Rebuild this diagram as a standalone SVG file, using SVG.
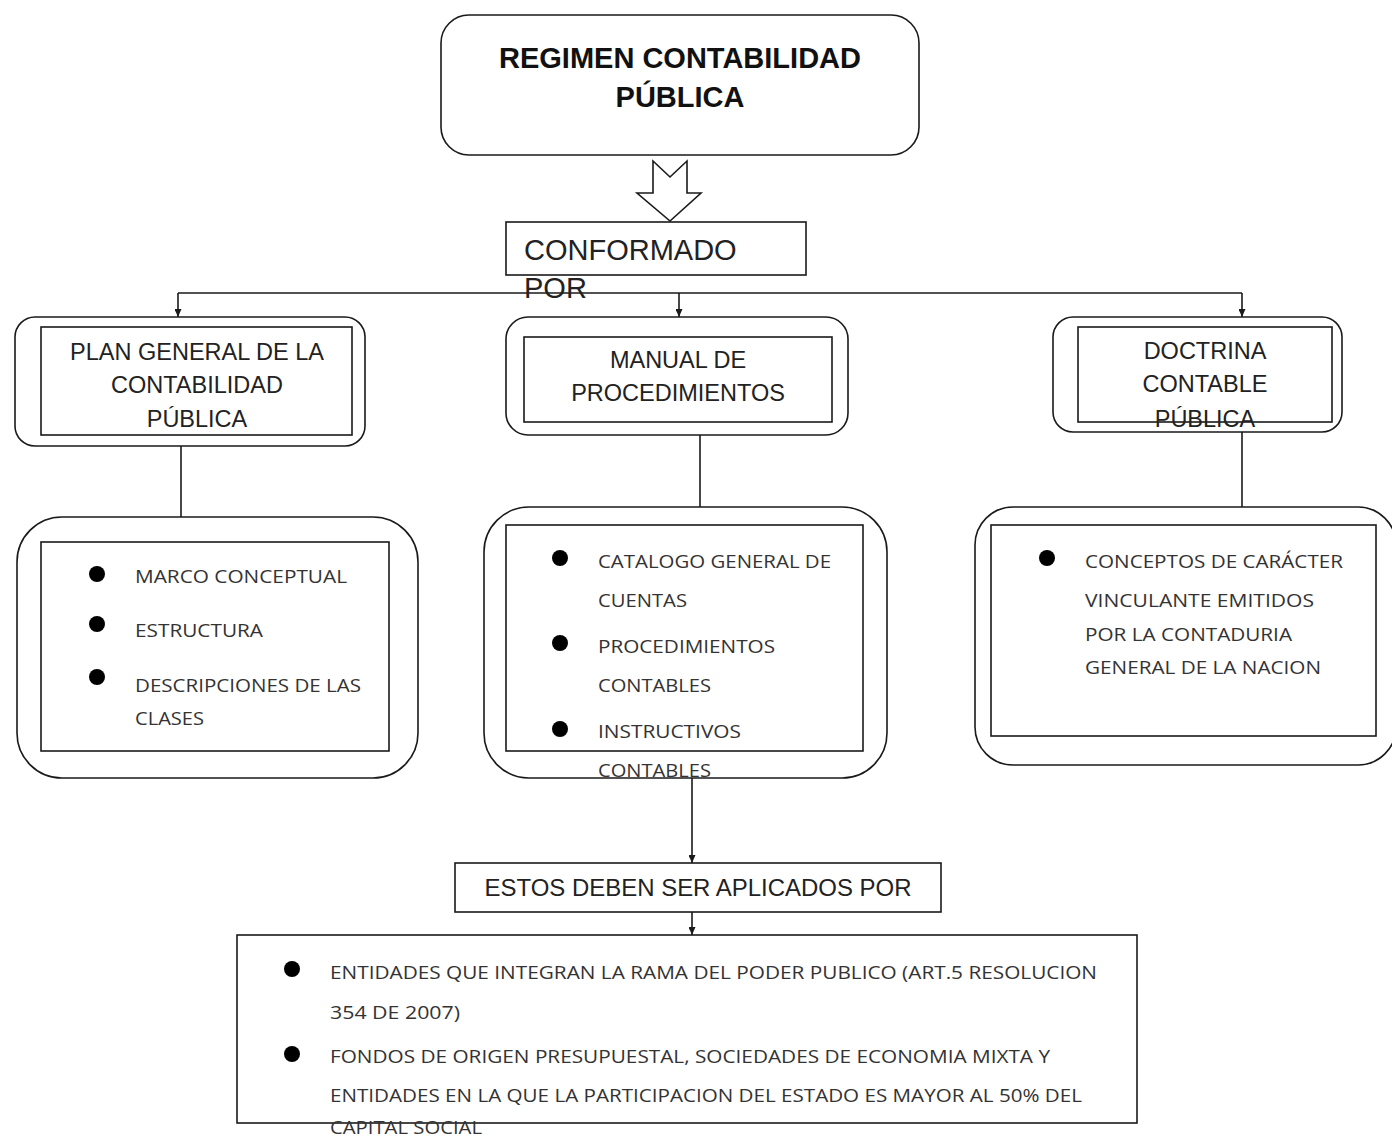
<svg xmlns="http://www.w3.org/2000/svg" width="1392" height="1138" viewBox="0 0 1392 1138">
<defs>
<marker id="ah" markerWidth="9" markerHeight="7" refX="8" refY="3.5" orient="auto" markerUnits="userSpaceOnUse">
<path d="M0,0 L8,3.5 L0,7 Z" fill="#1a1a1a"/>
</marker>
<style>
.bx{fill:#fff;stroke:#1a1a1a;stroke-width:1.6}
.ln{fill:none;stroke:#1a1a1a;stroke-width:1.6}
.hd{font-family:"Liberation Sans",Arial,sans-serif;font-size:23.5px;fill:#222;text-anchor:middle}
.bt{font-family:"Open Sans","Liberation Sans",sans-serif;font-size:18.5px;fill:#333}
.dot{fill:#000}
</style>
</defs>
<rect width="1392" height="1138" fill="#fff"/>

<g id="connectors">
<polygon class="bx" points="653,161 670,177 687,161 687,193 701,193 670,221 637,193 653,193"/>
<line class="ln" x1="178" y1="293" x2="1242" y2="293"/>
<line class="ln" x1="178" y1="293" x2="178" y2="317" marker-end="url(#ah)"/>
<line class="ln" x1="679" y1="293" x2="679" y2="317" marker-end="url(#ah)"/>
<line class="ln" x1="1242" y1="293" x2="1242" y2="317" marker-end="url(#ah)"/>
<line class="ln" x1="181" y1="446" x2="181" y2="517"/>
<line class="ln" x1="700" y1="435" x2="700" y2="507"/>
<line class="ln" x1="1242" y1="432" x2="1242" y2="507"/>
<line class="ln" x1="692" y1="778" x2="692" y2="863" marker-end="url(#ah)"/>
<line class="ln" x1="692" y1="912" x2="692" y2="935" marker-end="url(#ah)"/>
</g>

<g id="regimen">
<rect class="bx" x="441" y="15" width="478" height="140" rx="28"/>
<text x="680" y="68" font-family="Liberation Sans,Arial,sans-serif" font-size="29" font-weight="bold" fill="#111" text-anchor="middle">REGIMEN CONTABILIDAD</text>
<text x="680" y="107" font-family="Liberation Sans,Arial,sans-serif" font-size="29" font-weight="bold" fill="#111" text-anchor="middle">PÚBLICA</text>
</g>

<g id="conformado">
<rect class="bx" x="506" y="222" width="300" height="53"/>
<text x="524" y="260" font-family="Liberation Sans,Arial,sans-serif" font-size="29" fill="#222">CONFORMADO</text>
<text x="524" y="298" font-family="Liberation Sans,Arial,sans-serif" font-size="29" fill="#222">POR</text>
</g>

<g id="plan">
<rect class="bx" x="15" y="317" width="350" height="129" rx="20"/>
<rect class="bx" x="41" y="327" width="311" height="108"/>
<text class="hd" x="197" y="360">PLAN GENERAL DE LA</text>
<text class="hd" x="197" y="393">CONTABILIDAD</text>
<text class="hd" x="197" y="427">PÚBLICA</text>
</g>

<g id="manual">
<rect class="bx" x="506" y="317" width="342" height="118" rx="22"/>
<rect class="bx" x="524" y="337" width="308" height="85"/>
<text class="hd" x="678" y="368">MANUAL DE</text>
<text class="hd" x="678" y="401">PROCEDIMIENTOS</text>
</g>

<g id="doctrina">
<rect class="bx" x="1053" y="317" width="289" height="115" rx="20"/>
<rect class="bx" x="1078" y="327" width="254" height="95"/>
<text class="hd" x="1205" y="359">DOCTRINA</text>
<text class="hd" x="1205" y="392">CONTABLE</text>
<text class="hd" x="1205" y="427">PÚBLICA</text>
</g>

<g id="plan-items">
<rect class="bx" x="17" y="517" width="401" height="261" rx="45"/>
<rect class="bx" x="41" y="542" width="348" height="209"/>
<circle class="dot" cx="97" cy="574" r="8"/>
<circle class="dot" cx="97" cy="624" r="8"/>
<circle class="dot" cx="97" cy="677" r="8"/>
<text class="bt" x="135" y="583" textLength="212" lengthAdjust="spacingAndGlyphs">MARCO CONCEPTUAL</text>
<text class="bt" x="135" y="637" textLength="128" lengthAdjust="spacingAndGlyphs">ESTRUCTURA</text>
<text class="bt" x="135" y="692" textLength="226" lengthAdjust="spacingAndGlyphs">DESCRIPCIONES DE LAS</text>
<text class="bt" x="135" y="725" textLength="69" lengthAdjust="spacingAndGlyphs">CLASES</text>
</g>

<g id="manual-items">
<rect class="bx" x="484" y="507" width="403" height="271" rx="45"/>
<rect class="bx" x="506" y="525" width="357" height="226"/>
<circle class="dot" cx="560" cy="558" r="8"/>
<circle class="dot" cx="560" cy="643" r="8"/>
<circle class="dot" cx="560" cy="729" r="8"/>
<text class="bt" x="598" y="568" textLength="233" lengthAdjust="spacingAndGlyphs">CATALOGO GENERAL DE</text>
<text class="bt" x="598" y="607" textLength="89" lengthAdjust="spacingAndGlyphs">CUENTAS</text>
<text class="bt" x="598" y="653" textLength="177" lengthAdjust="spacingAndGlyphs">PROCEDIMIENTOS</text>
<text class="bt" x="598" y="692" textLength="113" lengthAdjust="spacingAndGlyphs">CONTABLES</text>
<text class="bt" x="598" y="738" textLength="143" lengthAdjust="spacingAndGlyphs">INSTRUCTIVOS</text>
<text class="bt" x="598" y="777" textLength="113" lengthAdjust="spacingAndGlyphs">CONTABLES</text>
</g>

<g id="doctrina-items">
<rect class="bx" x="975" y="507" width="421" height="258" rx="38"/>
<rect class="bx" x="991" y="525" width="385" height="211"/>
<circle class="dot" cx="1047" cy="558" r="8"/>
<text class="bt" x="1085" y="568" textLength="258" lengthAdjust="spacingAndGlyphs">CONCEPTOS DE CARÁCTER</text>
<text class="bt" x="1085" y="607" textLength="229" lengthAdjust="spacingAndGlyphs">VINCULANTE EMITIDOS</text>
<text class="bt" x="1085" y="641" textLength="207" lengthAdjust="spacingAndGlyphs">POR LA CONTADURIA</text>
<text class="bt" x="1085" y="674" textLength="236" lengthAdjust="spacingAndGlyphs">GENERAL DE LA NACION</text>
</g>

<g id="estos">
<rect class="bx" x="455" y="863" width="486" height="49"/>
<text x="698" y="896" font-family="Liberation Sans,Arial,sans-serif" font-size="23.5" fill="#222" text-anchor="middle" textLength="427" lengthAdjust="spacingAndGlyphs">ESTOS DEBEN SER APLICADOS POR</text>
</g>

<g id="entidades">
<rect class="bx" x="237" y="935" width="900" height="188"/>
<circle class="dot" cx="292" cy="969" r="8"/>
<circle class="dot" cx="292" cy="1054" r="8"/>
<text class="bt" x="330" y="979" textLength="767" lengthAdjust="spacingAndGlyphs">ENTIDADES QUE INTEGRAN LA RAMA DEL PODER PUBLICO (ART.5 RESOLUCION</text>
<text class="bt" x="330" y="1019" textLength="130" lengthAdjust="spacingAndGlyphs">354 DE 2007)</text>
<text class="bt" x="330" y="1063" textLength="720" lengthAdjust="spacingAndGlyphs">FONDOS DE ORIGEN PRESUPUESTAL, SOCIEDADES DE ECONOMIA MIXTA Y</text>
<text class="bt" x="330" y="1102" textLength="752" lengthAdjust="spacingAndGlyphs">ENTIDADES EN LA QUE LA PARTICIPACION DEL ESTADO ES MAYOR AL 50% DEL</text>
<text class="bt" x="330" y="1134" textLength="152" lengthAdjust="spacingAndGlyphs">CAPITAL SOCIAL</text>
</g>
</svg>
